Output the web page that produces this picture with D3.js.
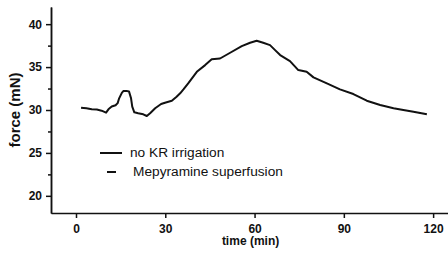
<!DOCTYPE html>
<html>
<head>
<meta charset="utf-8">
<script src="https://cdn.jsdelivr.net/npm/d3@7"></script>
<style>
  body { margin: 0; background: #fff; }
  svg { display: block; font-family: "Liberation Sans", Arial, sans-serif; }
</style>
</head>
<body>
<div id="chart"></div>
<script>
// ----- Data -----
const timeMin = [1.7, 3.5, 5.3, 7.0, 8.6, 10.1, 10.9, 12.0, 13.3, 14.0, 14.5, 15.4, 15.9, 17.0, 17.8,
  18.5, 18.9, 19.6, 20.9, 22.6, 23.8, 24.9, 26.6, 28.6, 29.9, 32.2, 33.8, 35.0, 36.1, 37.7,
  40.6, 43.4, 45.6, 48.4, 51.8, 55.7, 58.5, 60.7, 62.9, 65.2, 66.9, 68.6, 71.9, 74.7, 77.5,
  79.8, 84.3, 88.7, 93.2, 97.7, 102.2, 106.7, 110.0, 113.4, 117.9];
const forceMN = [30.27, 30.2, 30.08, 30.05, 29.92, 29.69, 30.08, 30.4, 30.55, 30.8, 31.36, 32.0, 32.2, 32.22, 32.17,
  31.36, 30.4, 29.73, 29.62, 29.5, 29.3, 29.62, 30.2, 30.7, 30.85, 31.08, 31.55, 31.94, 32.4, 33.1,
  34.45, 35.23, 35.9, 36.0, 36.67, 37.44, 37.83, 38.06, 37.83, 37.56, 36.98, 36.4, 35.7, 34.65, 34.45,
  33.8, 33.1, 32.4, 31.86, 31.08, 30.58, 30.2, 30.0, 29.8, 29.5];

const xTicks = [0, 30, 60, 90, 120];
const yTicks = [20, 25, 30, 35, 40];
const yMinorTicks = [22.5, 27.5, 32.5, 37.5];
const legendLabels = ["no KR irrigation", "Mepyramine superfusion"];

const points = timeMin.map((t, i) => ({ t, f: forceMN[i] }));

// ----- SVG -----
const W = 448, H = 254;
const svg = d3.select("#chart").append("svg")
  .attr("width", W)
  .attr("height", H);

// ----- Scales -----
const x = d3.scaleLinear().domain([-8.4, 125]).range([51, 448]);
const y = d3.scaleLinear().domain([18, 42]).range([213, 7]);

// ----- Trace -----
svg.append("path")
  .datum(points)
  .attr("fill", "none")
  .attr("stroke", "#111")
  .attr("stroke-width", 2)
  .attr("stroke-linejoin", "round")
  .attr("d", d3.line().x(d => x(d.t)).y(d => y(d.f)));

// ----- Axes -----
svg.append("g")
  .attr("transform", `translate(0,${y(18)})`)
  .call(d3.axisBottom(x).tickValues(xTicks).tickSize(5).tickSizeOuter(0).tickPadding(6));

svg.append("g")
  .attr("transform", `translate(${x(-8.4)},0)`)
  .call(d3.axisLeft(y).tickValues(yTicks).tickSize(5).tickSizeOuter(0).tickPadding(4));

svg.append("g")
  .attr("transform", `translate(${x(-8.4)},0)`)
  .call(d3.axisLeft(y).tickValues(yMinorTicks).tickSize(3).tickSizeOuter(0).tickFormat(""));

svg.selectAll(".domain").attr("stroke", "#111").attr("stroke-width", 1.5);
svg.selectAll(".tick line").attr("stroke", "#111").attr("stroke-width", 1.5);
svg.selectAll(".tick text")
  .style("font-size", "12px")
  .style("font-weight", "700")
  .style("font-family", "'Liberation Sans', Arial, sans-serif")
  .attr("fill", "#111");

// ----- Axis labels -----
svg.append("text")
  .attr("x", x(60) - 4)
  .attr("y", 245)
  .attr("text-anchor", "middle")
  .style("font-size", "12px")
  .style("font-weight", "700")
  .attr("fill", "#111")
  .text("time (min)");

svg.append("text")
  .attr("transform", `translate(20,110) rotate(-90)`)
  .attr("text-anchor", "middle")
  .style("font-size", "15px")
  .style("font-weight", "700")
  .attr("fill", "#111")
  .text("force (mN)");

// ----- Legend -----
const legend = svg.append("g");
legend.append("line")
  .attr("x1", 100).attr("x2", 122)
  .attr("y1", 153).attr("y2", 153)
  .attr("stroke", "#111").attr("stroke-width", 2);
legend.append("line")
  .attr("x1", 107).attr("x2", 116)
  .attr("y1", 172).attr("y2", 172)
  .attr("stroke", "#111").attr("stroke-width", 2);

legend.selectAll("text.lbl")
  .data(legendLabels)
  .enter()
  .append("text")
  .attr("class", "lbl")
  .attr("x", (d, i) => i === 0 ? 130 : 133)
  .attr("y", (d, i) => 157 + i * 19)
  .style("font-size", "13.7px")
  .attr("fill", "#111")
  .text(d => d);
</script>
</body>
</html>
